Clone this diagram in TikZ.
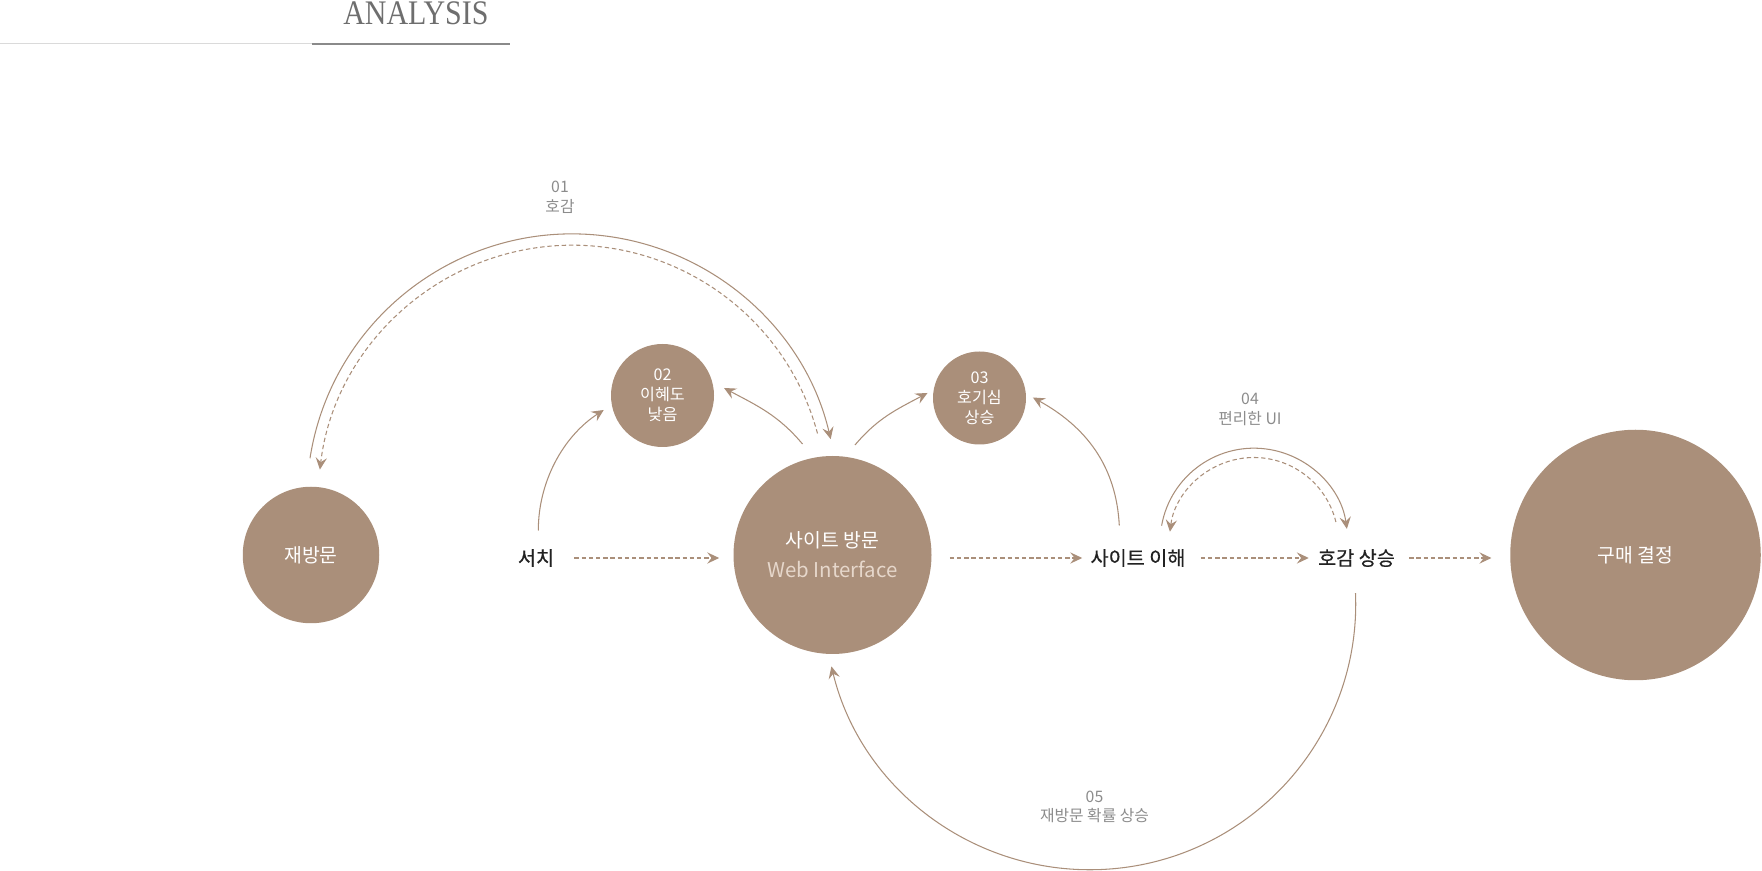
\documentclass[tikz,border=0pt]{standalone}
\usepackage{fontspec}
\usepackage{xcolor}
\usetikzlibrary{arrows.meta}
\newfontfamily\krfont{Noto Sans CJK KR}
\newfontfamily\krbold[FakeBold=0.5]{Noto Sans CJK KR}
\newfontfamily\titlefont{Liberation Serif}
\definecolor{mocha}{RGB}{170,143,122}
\definecolor{inkgray}{RGB}{34,34,34}
\definecolor{notegray}{RGB}{140,140,140}
\definecolor{webpink}{RGB}{230,215,203}
\definecolor{titlegray}{RGB}{110,110,110}
\definecolor{rulelight}{RGB}{218,218,218}
\definecolor{ruledark}{RGB}{138,138,138}

\begin{document}
\begin{tikzpicture}[
  dot/.style={circle, fill=mocha, inner sep=0pt, text=white, align=center, font=\krfont\fontsize{11}{17}\selectfont},
  smalldot/.style={dot, font=\krfont\fontsize{9.2}{11.3}\selectfont},
  word/.style={inner sep=0pt, text=inkgray, font=\krbold\fontsize{11.2}{13}\selectfont},
  note/.style={inner sep=0pt, align=center, text=notegray, font=\krfont\fontsize{9}{11.2}\selectfont},
  link/.style={draw=mocha, line width=0.6pt},
  flow/.style={link, dash pattern=on 2.5pt off 1.6pt},
  arrowed/.style={-{Stealth[length=6.8pt,width=6.4pt,inset=2.5pt]}}
]
\useasboundingbox (0,0) rectangle (35.24,17.4);

\node[anchor=base west, inner sep=0pt, xscale=0.87, text=titlegray, font=\titlefont\fontsize{19.6}{20}\selectfont] (title) at (6.86,16.91) {ANALYSIS};
\draw[line width=0.57pt, draw=rulelight] (0,16.52) -- (10.2,16.52);
\draw[line width=1.15pt, draw=ruledark] (6.24,16.52) -- (10.2,16.52);

\node[dot, minimum size=2.73cm] (revisit) at (6.22,6.30) {재방문};
\node[smalldot, minimum size=2.06cm] (lowgrasp) at (13.25,9.49) {02\\이혜도\\낮음};
\node[dot, minimum size=3.96cm] (visit) at (16.65,6.30) {사이트 방문\\{\fontsize{11.6}{17}\selectfont\color{webpink}Web Interface}};
\node[smalldot, minimum size=1.86cm] (curious) at (19.59,9.44) {03\\호기심\\상승};
\node[dot, minimum size=5.01cm] (buy) at (32.71,6.30) {구매 결정};

\node[word] (search) at (10.72,6.24) {서치};
\node[word] (grasp) at (22.76,6.24) {사이트 이해};
\node[word] (liking) at (27.13,6.24) {호감 상승};

\node[note] (n1) at (11.2,13.46) {01\\호감};
\node[note] (n4) at (25.0,9.21) {04\\편리한 UI};
\node[note] (n5) at (21.89,1.26) {05\\재방문 확률 상승};

\draw[flow, arrowed, shorten <=0.4cm, shorten >=0.28cm] (search.east) -- (search.east -| visit.west);
\draw[flow, arrowed, shorten <=0.36cm, shorten >=0.16cm] (visit.east |- grasp.west) -- (grasp.west);
\draw[flow, arrowed, shorten <=0.3cm, shorten >=0.18cm] (grasp.east) -- (liking.west);
\draw[flow, arrowed, shorten <=0.28cm, shorten >=0.37cm] (liking.east) -- (liking.east -| buy.west);

\draw[link, arrowed] ([shift={(-0.02,1.935)}]revisit.center) arc[start angle=171.1, end angle=13.1, radius=5.308];
\draw[flow, arrowed] ([shift={(-0.30,2.43)}]visit.center) arc[start angle=15, end angle=173.3, radius=5.08];

\draw[link, arrowed] ([shift={(0.046,0.55)}]search.center) arc[start angle=180, end angle=123, radius=2.874];
\draw[link, arrowed] ([shift={(-0.6,2.22)}]visit.center) to[out=130, in=-28] ([shift={(1.23,0.15)}]lowgrasp.center);
\draw[link, arrowed] ([shift={(0.45,2.2)}]visit.center) to[out=50, in=208] ([shift={(-1.04,0.10)}]curious.center);
\draw[link, arrowed] ([shift={(-0.374,0.65)}]grasp.center) to[out=93, in=-29] ([shift={(1.068,0.01)}]curious.center);

\draw[link, arrowed] ([shift={(0.472,0.646)}]grasp.center) arc[start angle=170, end angle=8, radius=1.876];
\draw[flow, arrowed] ([shift={(-0.412,0.72)}]liking.center) arc[start angle=13.7, end angle=173, radius=1.69];

\draw[link, arrowed] ([shift={(-0.02,-0.704)}]liking.center) arc[start angle=2.3, end angle=-166.4, radius=5.318];
\end{tikzpicture}
\end{document}
